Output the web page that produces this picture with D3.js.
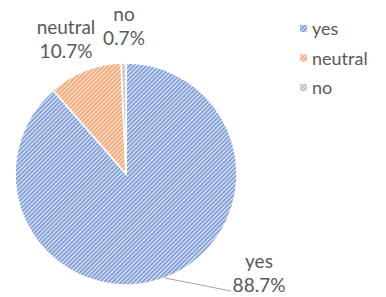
<!DOCTYPE html>
<html>
<head>
<meta charset="utf-8">
<script src="https://d3js.org/d3.v7.min.js"></script>
<style>
  body { margin: 0; background: #fff; }
  text { font-family: Lato, "Open Sans", sans-serif; fill: #595959; }
</style>
</head>
<body>
<svg id="chart" width="386" height="297"></svg>
<script>
// chart data
var categories = ['yes', 'neutral', 'no'];
var values = [88.7, 10.7, 0.7];
var labels = ['88.7%', '10.7%', '0.7%'];
var stripeColors = ['#4f78c8', '#ee8a48', '#a8a8a8'];
var backColors = ['#e9eefa', '#fdeadd', '#eeeeee'];

var svg = d3.select('#chart');
var cx = 126, cy = 174, r = 111;

// hatch patterns, one per category
var defs = svg.append('defs');
categories.forEach(function (c, i) {
    var p = defs.append('pattern')
        .attr('id', 'hatch-' + i)
        .attr('patternUnits', 'userSpaceOnUse')
        .attr('width', 3)
        .attr('height', 3)
        .attr('patternTransform', 'rotate(45)');
    p.append('rect').attr('width', 3).attr('height', 3).attr('fill', backColors[i]);
    p.append('line')
        .attr('x1', 1).attr('y1', 0).attr('x2', 1).attr('y2', 3)
        .attr('stroke', stripeColors[i])
        .attr('stroke-width', 1.3);
});

var pie = d3.pie().sort(null).value(function (d) { return d; });
var arc = d3.arc().innerRadius(0).outerRadius(r);
var arcs = pie(values);

var g = svg.append('g').attr('transform', 'translate(' + cx + ',' + cy + ')');
g.selectAll('path.slice')
    .data(arcs)
    .enter().append('path')
    .attr('class', 'slice')
    .attr('d', arc)
    .attr('fill', function (d, i) { return 'url(#hatch-' + i + ')'; })
    .attr('stroke', '#fff')
    .attr('stroke-width', 1.5);

// data labels (placed outside, like the original)
var labelPos = [
    { x: 259, y: 268 },
    { x: 66, y: 34 },
    { x: 124, y: 21 }
];
categories.forEach(function (c, i) {
    var t = svg.append('text')
        .attr('text-anchor', 'middle')
        .attr('font-size', 19);
    t.append('tspan').attr('x', labelPos[i].x).attr('y', labelPos[i].y).text(c);
    t.append('tspan').attr('x', labelPos[i].x).attr('dy', 24).text(labels[i]);
});

// leader line for the "yes" label, from the middle of its arc
var yesMid = (arcs[0].startAngle + arcs[0].endAngle) / 2;
var edge = [Math.sin(yesMid) * r + cx, -Math.cos(yesMid) * r + cy];
svg.append('line')
    .attr('x1', edge[0]).attr('y1', edge[1])
    .attr('x2', 231).attr('y2', 291)
    .attr('stroke', '#a6a6a6')
    .attr('stroke-width', 1);

// legend
var legend = svg.append('g').attr('transform', 'translate(300,0)');
var rows = legend.selectAll('g.row')
    .data(categories)
    .enter().append('g')
    .attr('class', 'row')
    .attr('transform', function (d, i) { return 'translate(0,' + (29 + i * 29.5) + ')'; });
rows.append('rect')
    .attr('x', 0).attr('y', -4)
    .attr('width', 7).attr('height', 7)
    .attr('fill', function (d, i) { return 'url(#hatch-' + i + ')'; });
rows.append('text')
    .attr('x', 12)
    .attr('y', 6)
    .attr('font-size', 18)
    .text(function (d) { return d; });
</script>
</body>
</html>
